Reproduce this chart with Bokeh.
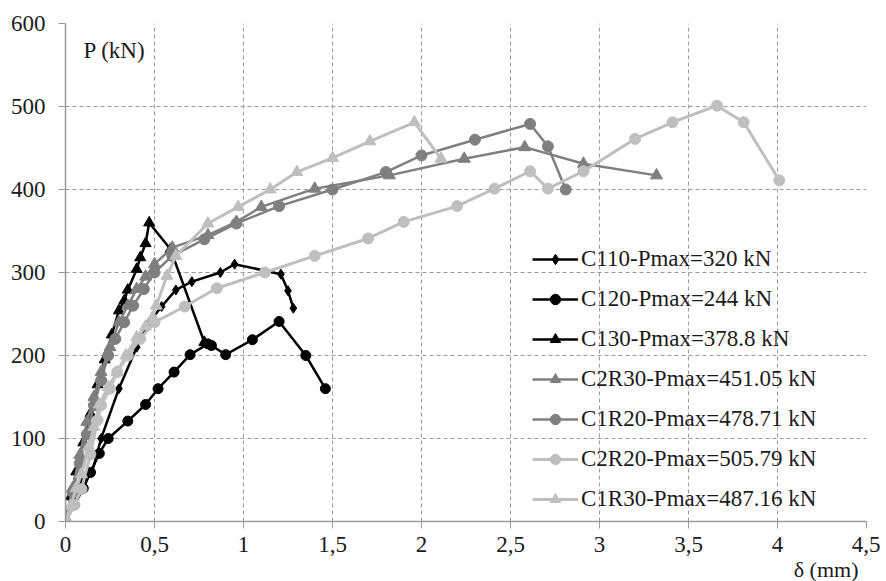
from bokeh.plotting import figure
from bokeh.models import FixedTicker, Legend, LegendItem, Label, ColumnDataSource, Title
from bokeh.embed import file_html
from bokeh.resources import INLINE

# ---- data ----
x_ticks = [0, 0.5, 1, 1.5, 2, 2.5, 3, 3.5, 4, 4.5]
x_tick_labels = ["0", "0,5", "1", "1,5", "2", "2,5", "3", "3,5", "4", "4,5"]
y_ticks = [0, 100, 200, 300, 400, 500, 600]

c110_x = [0, 0.03, 0.06, 0.10, 0.15, 0.20, 0.30, 0.40, 0.47, 0.54, 0.62, 0.71, 0.87, 0.95, 1.21, 1.25, 1.28]
c110_y = [0, 20, 40, 50, 60, 100, 160, 210, 240, 259, 279, 289, 300, 310, 298, 278, 257]

c120_x = [0, 0.05, 0.10, 0.14, 0.19, 0.24, 0.35, 0.45, 0.52, 0.61, 0.70, 0.80, 0.82, 0.90, 1.05, 1.20, 1.35, 1.46]
c120_y = [0, 20, 40, 59, 82, 100, 121, 141, 160, 180, 201, 214, 212, 201, 219, 241, 200, 160]

c130_x = [0, 0.03, 0.06, 0.10, 0.14, 0.18, 0.22, 0.26, 0.30, 0.33, 0.35, 0.40, 0.42, 0.45, 0.47, 0.59, 0.78]
c130_y = [0, 30, 60, 95, 130, 165, 195, 225, 254, 266, 279, 304, 318, 335, 360, 328, 216]

c2r30_x = [0, 0.04, 0.08, 0.12, 0.16, 0.20, 0.25, 0.30, 0.35, 0.40, 0.45, 0.50, 0.60, 0.80, 0.96, 1.10, 1.40, 1.82, 2.24, 2.58, 2.91, 3.32]
c2r30_y = [0, 40, 80, 120, 150, 180, 210, 240, 260, 280, 295, 310, 330, 345, 361, 379, 401, 417, 437, 451, 431, 417]

c1r20_x = [0, 0.04, 0.08, 0.12, 0.16, 0.20, 0.24, 0.28, 0.33, 0.38, 0.44, 0.50, 0.60, 0.78, 0.96, 1.20, 1.50, 1.80, 2.00, 2.30, 2.61, 2.71, 2.81]
c1r20_y = [0, 35, 70, 105, 140, 170, 200, 220, 240, 260, 280, 300, 320, 340, 359, 380, 400, 421, 441, 460, 479, 452, 400]

c2r20_x = [0, 0.05, 0.09, 0.14, 0.18, 0.20, 0.25, 0.29, 0.35, 0.42, 0.50, 0.67, 0.85, 1.12, 1.40, 1.70, 1.90, 2.20, 2.41, 2.61, 2.71, 2.91, 3.20, 3.41, 3.66, 3.81, 4.01]
c2r20_y = [0, 20, 39, 81, 122, 140, 160, 180, 200, 220, 240, 259, 281, 300, 320, 341, 361, 380, 401, 422, 401, 422, 461, 481, 501, 481, 411]

c1r30_x = [0, 0.03, 0.06, 0.09, 0.13, 0.16, 0.19, 0.24, 0.29, 0.34, 0.40, 0.45, 0.49, 0.51, 0.57, 0.62, 0.80, 0.97, 1.15, 1.30, 1.50, 1.71, 1.96, 2.11]
c1r30_y = [0, 19, 40, 57, 90, 114, 141, 162, 180, 200, 222, 235, 246, 260, 296, 320, 359, 379, 400, 421, 438, 458, 481, 437]

names = ["C110-Pmax=320 kN", "C120-Pmax=244 kN", "C130-Pmax=378.8 kN",
         "C2R30-Pmax=451.05 kN", "C1R20-Pmax=478.71 kN",
         "C2R20-Pmax=505.79 kN", "C1R30-Pmax=487.16 kN"]

FONT = "'Liberation Serif'"
BLACK = "#000000"
DARK = "#7f7f7f"
LIGHT = "#bfbfbf"
TEXT = "#1a1a1a"

series = [
    (names[0], c110_x, c110_y, BLACK, "diamond", 10, 2.5),
    (names[1], c120_x, c120_y, BLACK, "circle", 10, 2.5),
    (names[2], c130_x, c130_y, BLACK, "triangle", 11, 2.5),
    (names[3], c2r30_x, c2r30_y, DARK, "triangle", 12, 2.5),
    (names[4], c1r20_x, c1r20_y, DARK, "circle", 11, 2.5),
    (names[5], c2r20_x, c2r20_y, LIGHT, "circle", 11, 3),
    (names[6], c1r30_x, c1r30_y, LIGHT, "triangle", 12, 3),
]

p = figure(width=880, height=581, x_range=(0, 4.5), y_range=(0, 600),
           output_backend="svg", toolbar_location=None,
           min_border_left=65, min_border_top=23, min_border_right=14, min_border_bottom=40)
p.outline_line_color = None
p.background_fill_color = "white"

for ax, ticks in ((p.xaxis[0], x_ticks), (p.yaxis[0], y_ticks)):
    ax.ticker = FixedTicker(ticks=ticks)
    ax.axis_line_color = "#9a9a9a"
    ax.axis_line_width = 1.5
    ax.major_tick_line_color = "#9a9a9a"
    ax.major_tick_in = 0
    ax.major_tick_out = 7
    ax.minor_tick_line_color = None
    ax.major_label_text_font = FONT
    ax.major_label_text_font_size = "23px"
    ax.major_label_text_color = TEXT

p.xaxis[0].major_label_overrides = {t: l for t, l in zip(x_ticks, x_tick_labels)}
p.xaxis[0].major_label_standoff = 8
p.yaxis[0].major_label_standoff = 13

for g in (p.xgrid[0], p.ygrid[0]):
    g.grid_line_color = "#9a9a9a"
    g.grid_line_dash = "4 3"
    g.grid_line_width = 1

items = []
for name, xs, ys, col, mk, sz, lw in series:
    src = ColumnDataSource(dict(x=xs, y=ys))
    r1 = p.line("x", "y", source=src, line_color=col, line_width=lw)
    r2 = p.scatter("x", "y", source=src, marker=mk, size=sz,
                   fill_color=col, line_color=col)
    items.append(LegendItem(label=name, renderers=[r1, r2]))

legend = Legend(items=items, location=(467, 9))
legend.background_fill_alpha = 0
legend.border_line_alpha = 0
legend.padding = 0
legend.margin = 0
legend.spacing = 14
legend.glyph_width = 46
legend.glyph_height = 26
legend.label_height = 26
legend.label_standoff = 3
legend.label_text_font = FONT
legend.label_text_font_size = "23px"
legend.label_text_color = TEXT
p.add_layout(legend, "center")

p.add_layout(Label(x=18, y=471, x_units="screen", y_units="screen", text="P (kN)",
                   text_font=FONT, text_font_size="23px", text_color=TEXT,
                   text_baseline="middle"))
p.add_layout(Title(text="δ (mm)", align="right", offset=8, standoff=0,
                   text_font=FONT, text_font_size="22px",
                   text_font_style="normal", text_color=TEXT), "below")

open("out.html", "w").write(file_html(p, INLINE))
